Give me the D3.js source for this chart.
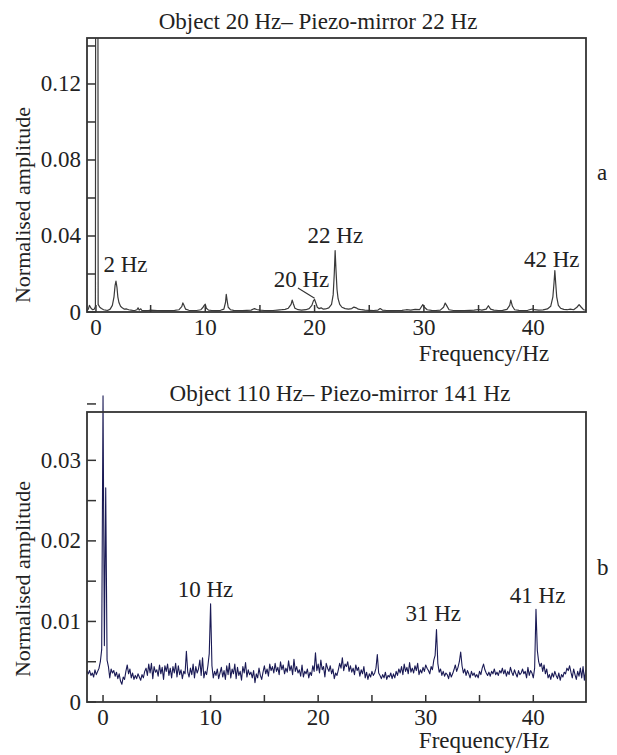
<!DOCTYPE html>
<html><head><meta charset="utf-8">
<script src="https://cdn.jsdelivr.net/npm/d3@7/dist/d3.min.js"></script>
<style>
html,body{margin:0;padding:0;background:#fff;}
text{font-family:"Liberation Serif","Times New Roman",serif;fill:#222;}
</style></head>
<body><svg id="c" width="617" height="755"></svg>
<script>
// ---------- DATA ----------
// Panel a: spectrum (frequency Hz, amplitude x1e-3)
const topFreq = [-0.85,-0.7,-0.6,-0.45,-0.3,-0.15,-0.05,0.0,0.15,0.2,0.35,0.5,0.7,0.9,1.1,1.3,1.5,1.65,1.75,1.83,1.92,2.0,2.1,2.25,2.4,2.6,2.8,3.0,3.2,3.4,3.6,3.75,3.85,3.95,4.1,4.2,4.5,4.8,5.0,5.3,5.6,6.0,6.4,6.8,7.2,7.6,7.85,7.95,8.05,8.2,8.5,8.8,9.2,9.6,9.8,9.9,10.0,10.1,10.3,10.6,11.0,11.4,11.7,11.85,11.92,12.0,12.1,12.3,12.6,13.0,13.4,13.8,14.2,14.5,14.7,15.0,15.4,15.8,16.2,16.6,17.0,17.3,17.6,17.85,17.95,18.05,18.2,18.5,18.8,19.2,19.5,19.75,19.9,20.0,20.1,20.25,20.4,20.6,20.8,21.0,21.3,21.55,21.7,21.8,21.88,21.96,22.05,22.15,22.3,22.5,22.8,23.1,23.4,23.6,23.8,24.0,24.3,24.6,25.0,25.4,25.8,26.0,26.2,26.6,27.0,27.5,28.0,28.4,28.8,29.2,29.6,29.9,30.05,30.3,30.7,31.1,31.5,31.8,31.95,32.1,32.3,32.7,33.2,33.7,34.2,34.6,35.0,35.3,35.7,35.9,36.1,36.4,36.8,37.2,37.6,37.85,37.95,38.1,38.3,38.7,39.1,39.5,39.9,40.1,40.5,40.9,41.3,41.6,41.8,41.9,41.98,42.06,42.15,42.3,42.5,42.8,43.1,43.4,43.7,44.0,44.2,44.4,44.6,44.85];
const topAmp = [0.6,1.5,3.5,2.0,1.2,1.5,3,400,400,4,2.5,1.8,1.2,1.0,0.9,1.5,3.5,8,14,16.3,13,8,5,3,2.2,1.5,1.6,1.2,1.0,0.8,0.9,1.2,2.2,1.0,1.7,0.8,0.7,0.8,1.0,0.9,0.8,0.7,0.8,0.7,0.9,1.2,2.8,4.8,3.5,1.5,0.9,0.8,0.8,1.2,2.5,3.5,4.1,2,1.0,0.8,0.7,0.9,1.5,5,9.3,6,2.5,1.2,0.9,0.8,0.7,0.9,1.0,1.8,1.3,1.0,0.8,0.7,0.8,1.0,1.2,1.4,2,4,6.3,4.5,2,1.2,1.0,1.2,1.8,3.5,6.0,6.6,5,2.5,1.8,2.2,1.5,1.6,2.2,4,9,20,32.3,22,12,7,4,2.5,1.8,1.5,1.8,2.6,2.2,1.5,1.2,1.0,0.9,0.8,1.0,1.8,1.0,0.8,0.7,0.8,0.9,1.2,1.0,1.4,1.2,3.9,2.5,1.2,0.9,0.8,1.0,2.5,4.7,3.2,1.2,0.8,0.7,0.8,0.9,1.0,1.3,1.0,1.5,3.3,1.5,1.0,0.8,0.9,1.4,3.5,6.3,3,1.2,0.9,0.8,0.9,1.6,1.2,1.0,1.1,1.6,3,8,15,21.8,15,8,3.5,2,1.4,1.2,1.5,1.2,2.5,3.9,2.5,1.2,1.0];
const topYTicks = [0,0.02,0.04,0.06,0.08,0.10,0.12,0.14];
const topYLabels = [0,0.04,0.08,0.12];
const topLabels = [
  {text:"2 Hz", f:2.7, a:0.0211},
  {text:"22 Hz", f:21.9, a:0.0363},
  {text:"20 Hz", f:18.8, a:0.0132},
  {text:"42 Hz", f:41.7, a:0.0237}
];
const topLeader = [[18.48,0.0126],[20.0,0.0072]];

// Panel b: spectrum sampled from -1.5 Hz every 0.125 Hz (amplitude x1e-4)
const botStart = -1.5, botStep = 0.125;
const botAmp = [38,35,39,33,36,31,40,34,38,42,50,65,
380,70,266,52,
44,30,41,36,
39,32,37,29,35,26,22,31,
28,38,46,35,41,30,36,28,
33,29,35,31,27,34,30,38,
42,33,47,36,48,29,44,37,
40,32,46,35,43,28,45,38,
47,33,42,30,44,36,48,31,
45,34,40,29,38,35,63,37,
31,42,34,47,30,44,36,41,
52,33,55,30,38,34,45,60,
122,45,30,38,33,41,29,36,
43,31,39,28,45,34,48,30,
41,35,47,29,43,33,38,27,
44,36,49,31,40,34,37,30,
39,24,35,30,42,33,28,37,
45,35,41,32,47,39,44,36,
48,38,43,34,50,40,46,35,
42,37,51,39,45,34,53,38,
44,36,40,32,46,31,38,35,
41,30,37,33,45,38,61,39,
47,36,52,40,44,31,48,42,
38,45,35,41,29,36,33,40,
48,42,55,39,47,44,50,38,
45,37,42,34,46,39,43,32,
40,35,44,30,37,28,35,31,
38,33,36,42,59,36,33,29,
34,30,37,28,33,31,36,29,
35,30,38,33,41,36,44,34,
47,38,43,35,49,37,42,36,
45,39,48,34,40,36,43,38,
46,42,39,35,44,40,52,58,
90,48,37,41,33,38,32,36,
34,29,37,31,35,40,46,38,
43,50,62,45,36,41,33,39,
35,30,38,33,36,31,34,30,
38,34,42,47,40,36,33,37,
32,38,35,41,34,37,33,39,
36,42,35,40,32,38,34,43,
37,33,40,35,31,39,34,36,
41,35,38,30,43,33,39,36,
30,42,115,64,50,44,48,38,
46,35,41,30,34,28,36,31,
38,33,29,36,27,34,31,37,
35,42,39,45,37,30,41,34,
28,38,32,42,30,44,27,40];
const botYTicks = [0,0.005,0.01,0.015,0.02,0.025,0.03,0.037];
const botYLabels = [0,0.01,0.02,0.03];
const botLabels = [
  {text:"10 Hz", f:9.53, a:0.01303},
  {text:"31 Hz", f:30.7, a:0.01005},
  {text:"41 Hz", f:40.4, a:0.01228}
];
const xTicks = [0,5,10,15,20,25,30,35,40];
const xLabels = [0,10,20,30,40];

// ---------- DRAW ----------
const svg = d3.select("#c");
const FS = 23;

function panel(o){
  const g = svg.append("g");
  const x = d3.scaleLinear().domain(o.xd).range([87,586]);
  const y = d3.scaleLinear().domain(o.yd).range([o.y1,o.y0]);
  const id = "clip"+o.key;
  svg.append("clipPath").attr("id",id).append("rect")
    .attr("x",87).attr("y",o.y0).attr("width",499).attr("height",o.y1-o.y0);
  const line = d3.line().x(d=>x(d[0])).y(d=>y(d[1]));
  g.append("path").datum(o.data).attr("d",line)
    .attr("fill","none").attr("stroke",o.color).attr("stroke-width",o.sw)
    .attr("stroke-linejoin","round")
    .attr("clip-path",o.clip?`url(#${id})`:null);
  g.append("rect").attr("x",87).attr("y",o.y0).attr("width",499).attr("height",o.y1-o.y0)
    .attr("fill","none").attr("stroke","#333").attr("stroke-width",1.8);
  g.selectAll(".yt").data(o.yTicks).join("line")
    .attr("x1",87).attr("x2",96).attr("y1",d=>y(d)).attr("y2",d=>y(d))
    .attr("stroke","#333").attr("stroke-width",1.5);
  g.selectAll(".yl").data(o.yLabels).join("text")
    .attr("x",81).attr("y",d=>y(d)+7.5).attr("text-anchor","end")
    .attr("font-size",FS).text(d=>d===0?"0":d3.format(o.yfmt)(d));
  g.selectAll(".xt").data(xTicks).join("line")
    .attr("x1",d=>x(d)).attr("x2",d=>x(d)).attr("y1",o.y1).attr("y2",o.y1-7)
    .attr("stroke","#333").attr("stroke-width",1.5);
  g.selectAll(".xl").data(xLabels).join("text")
    .attr("x",d=>x(d)).attr("y",o.y1+23).attr("text-anchor","middle")
    .attr("font-size",FS).text(d=>d);
  g.append("text").attr("x",o.titleX).attr("y",o.titleY).attr("text-anchor","middle")
    .attr("font-size",FS).text(o.title);
  g.append("text").attr("x",484).attr("y",o.xTitleY).attr("text-anchor","middle")
    .attr("font-size",FS).text("Frequency/Hz");
  g.append("text").attr("transform",`translate(30,${o.yTitleC}) rotate(-90)`)
    .attr("text-anchor","middle").attr("font-size",22).text("Normalised amplitude");
  g.append("text").attr("x",597).attr("y",o.tagY).attr("font-size",FS).text(o.tag);
  g.selectAll(".an").data(o.labels).join("text")
    .attr("x",d=>x(d.f)).attr("y",d=>y(d.a)).attr("text-anchor","middle")
    .attr("font-size",FS).text(d=>d.text);
  if(o.leader){
    g.append("line").attr("x1",x(o.leader[0][0])).attr("y1",y(o.leader[0][1]))
      .attr("x2",x(o.leader[1][0])).attr("y2",y(o.leader[1][1]))
      .attr("stroke","#333").attr("stroke-width",1.1);
  }
}

panel({
  key:"a", xd:[-0.82,44.83], yd:[0,0.1442], y0:38, y1:312,
  data: topFreq.map((f,i)=>[f, topAmp[i]/1000]),
  color:"#3a3a3a", sw:1.2, clip:true,
  yTicks:topYTicks, yLabels:topYLabels, yfmt:".2f",
  title:"Object 20 Hz\u2013 Piezo-mirror 22 Hz", titleX:318, titleY:29,
  xTitleY:361, yTitleC:205, tag:"a", tagY:180,
  labels:topLabels, leader:topLeader
});

panel({
  key:"b", xd:[-1.49,44.9], yd:[0,0.036], y0:412, y1:702,
  data: botAmp.map((a,i)=>[botStart+botStep*i, a/10000]),
  color:"#1a1a55", sw:1.1, clip:false,
  yTicks:botYTicks, yLabels:botYLabels, yfmt:".2f",
  title:"Object 110 Hz\u2013 Piezo-mirror 141 Hz", titleX:340, titleY:401,
  xTitleY:748, yTitleC:579, tag:"b", tagY:575,
  labels:botLabels, leader:null
});
</script></body></html>
